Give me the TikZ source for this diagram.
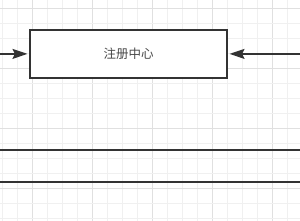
\documentclass[tikz,border=0pt]{standalone}
\usepackage{fontspec}
\newfontfamily\cjk{Noto Sans CJK SC}
\usetikzlibrary{arrows.meta}
\definecolor{ink}{HTML}{333333}
\definecolor{gridminor}{HTML}{F0F0F0}
\definecolor{gridmajor}{HTML}{E0E0E0}
\tikzset{
  gminor/.style={draw=gridminor, line width=0.8pt},
  gmajor/.style={draw=gridmajor, line width=0.8pt},
  boxnode/.style={draw=ink, line width=1.7pt, fill=white, minimum width=197.6pt, minimum height=48.3pt, inner sep=0pt, font=\cjk\fontsize{12.5}{15}\selectfont, text=ink!90},
  conn/.style={draw=ink, line width=1.7pt, -{Stealth[length=15pt,width=10pt,inset=2.5pt]}, shorten >=1.4pt},
  rule/.style={draw=ink, line width=1.9pt}
}
\begin{document}
\begin{tikzpicture}[x=1pt,y=-1pt]
\useasboundingbox (0,0) rectangle (300,221);
\fill[white] (0,0) rectangle (300,221);
% grid
\foreach \k in {0,...,19} {
  \pgfmathsetmacro{\xx}{2.3+15*\k}
  \pgfmathtruncatemacro{\m}{mod(\k,4)}
  \ifnum\m=2 \draw[gmajor] (\xx,0) -- (\xx,221); \else \draw[gminor] (\xx,0) -- (\xx,221); \fi
}
\foreach \k in {0,...,14} {
  \pgfmathsetmacro{\yy}{8.3+15*\k}
  \pgfmathtruncatemacro{\m}{mod(\k,4)}
  \ifnum\m=0 \draw[gmajor] (0,\yy) -- (300,\yy); \else \draw[gminor] (0,\yy) -- (300,\yy); \fi
}
% main box
\node[boxnode] (reg) at (128.5,53.9) {注册中心};
\coordinate (lin) at (0,53.9);
\coordinate (rin) at (300,53.9);
\draw[conn] (lin) -- (reg.west);
\draw[conn] (rin) -- (reg.east);
% horizontal rules
\coordinate (a1) at (0,150);
\coordinate (a2) at (300,150);
\coordinate (b1) at (0,181.7);
\coordinate (b2) at (300,181.7);
\draw[rule] (a1) -- (a2);
\draw[rule] (b1) -- (b2);
\end{tikzpicture}
\end{document}
